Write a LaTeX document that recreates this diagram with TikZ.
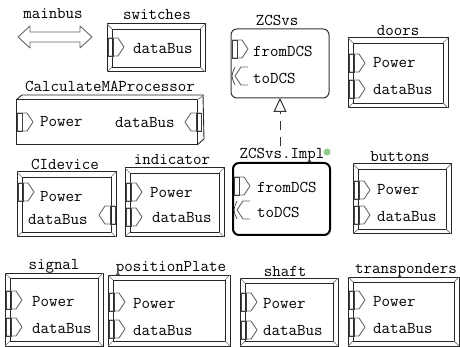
\documentclass[tikz,border=0pt]{standalone}
\usetikzlibrary{fit,arrows.meta}
\tikzset{
  lbl/.style={font=\ttfamily\fontsize{16.5}{18}\selectfont, inner sep=0pt, text=black},
  txt/.style={lbl, anchor=west},
  bevouter/.style={draw=black!85, line width=1pt, inner sep=0pt, outer sep=0pt},
  bevinner/.style={draw=black!85, line width=0.9pt},
  bevdiag/.style={draw=black!55, line width=0.7pt},
  portline/.style={draw=black!60, line width=0.9pt, line join=round},
  portbar/.style={draw=black!75, line width=0.7pt},
  roundbox/.style={draw=black!80, line width=1pt, rounded corners=6pt, inner sep=0pt, outer sep=0pt},
}
% beveled box: name, x1, y1, x2, y2, label, label x, label y
\newcommand\mkbev[8]{%
  \coordinate (#1-a) at (#2,#3); \coordinate (#1-b) at (#4,#5);
  \node[bevouter, fit=(#1-a)(#1-b)] (#1) {};
  \draw[bevinner] ([shift={(5,5)}]#1.north west) rectangle ([shift={(-5,-5)}]#1.south east);
  \draw[bevdiag] (#1.north west) -- ([shift={(5,5)}]#1.north west)
    (#1.north east) -- ([shift={(-5,5)}]#1.north east)
    (#1.south west) -- ([shift={(5,-5)}]#1.south west)
    (#1.south east) -- ([shift={(-5,-5)}]#1.south east);
  \node[lbl] (#1-lbl) at (#7,#8) {#6};}
% in-port at left edge x, centre y
\newcommand\inport[2]{%
  \draw[portline] (#1,#2-9) -- (#1+10,#2-9) -- (#1+16,#2) -- (#1+10,#2+9) -- (#1,#2+9);
  \draw[portbar] (#1,#2-9) rectangle (#1+5,#2+9);}
% out-port at right edge x, pointing left
\newcommand\outport[2]{%
  \draw[portline] (#1,#2-9) -- (#1-10,#2-9) -- (#1-16,#2) -- (#1-10,#2+9) -- (#1,#2+9);
  \draw[portbar] (#1-5,#2-9) rectangle (#1,#2+9);}
% out-port at left edge x, pointing left
\newcommand\leftout[2]{%
  \draw[portline] (#1+16,#2-9) -- (#1+9,#2-9) -- (#1+3,#2) -- (#1+9,#2+9) -- (#1+16,#2+9);
  \draw[portbar] (#1+3,#2-9) .. controls (#1-1,#2) .. (#1+3,#2+9);}
\begin{document}
\begin{tikzpicture}[x=1pt,y=-1pt]
\useasboundingbox[fill=white] (0,0) rectangle (460,347);

% mainbus
\node[lbl] (mainbus-lbl) at (53,14) {mainbus};
\draw[draw=black!60, line width=0.9pt, line join=round] (18,37) -- (30,26) -- (30,32) -- (80,32) -- (80,26) -- (92,37) -- (80,48) -- (80,42) -- (30,42) -- (30,48) -- cycle;

% switches
\mkbev{switches}{107}{24}{205}{72}{switches}{157}{15}
\inport{108}{47}
\node[txt] (switches-d) at (133,49) {dataBus};

% CalculateMAProcessor (cuboid)
\coordinate (calc-a) at (16,100); \coordinate (calc-b) at (197,145);
\node[bevouter, fit=(calc-a)(calc-b)] (calc) {};
\draw[bevinner] (calc.north west) -- ++(6,-5) -- ++(181,0) -- ([shift={(7,-6)}]calc.south east) -- (calc.south east);
\draw[bevdiag] (calc.north east) -- ++(7,-5);
\node[lbl] (calc-lbl) at (110,86) {CalculateMAProcessor};
\inport{17}{122}
\outport{201}{122}
\node[txt] (calc-p) at (40,122) {Power};
\node[txt] (calc-d) at (115,123) {dataBus};

% ZCSvs
\coordinate (zcs-a) at (231,29); \coordinate (zcs-b) at (329,98);
\node[roundbox, fit=(zcs-a)(zcs-b)] (zcsvs) {};
\node[lbl] (zcsvs-lbl) at (277,20) {ZCSvs};
\inport{232}{49}
\leftout{232}{76}
\node[txt] (zcsvs-f) at (253,51) {fromDCS};
\node[txt] (zcsvs-t) at (253,78) {toDCS};

% doors
\mkbev{doors}{348}{38}{448}{108}{doors}{398}{31}
\inport{349}{63}
\inport{349}{89}
\node[txt] (doors-p) at (373,63) {Power};
\node[txt] (doors-d) at (373,90) {dataBus};

% ZCSvs.Impl
\coordinate (impl-a) at (233,163); \coordinate (impl-b) at (330,235);
\node[roundbox, draw=black, line width=2pt, fit=(impl-a)(impl-b)] (impl) {};
\node[lbl] (impl-lbl) at (282,155) {ZCSvs.Impl};
\fill[green!55!black!45] (327,152) circle (3.5);
\inport{234}{186}
\leftout{234}{210}
\node[txt] (impl-f) at (257,187) {fromDCS};
\node[txt] (impl-t) at (257,212) {toDCS};
\coordinate (gen-start) at (280,146);
\draw[black!80, line width=1pt, dash pattern=on 9pt off 7pt, -{Triangle[open, width=13pt, length=14pt]}] (gen-start) -- (zcsvs.south);

% buttons
\mkbev{buttons}{353}{164}{451}{234}{buttons}{400}{157}
\inport{354}{190}
\inport{354}{215}
\node[txt] (buttons-p) at (377,190) {Power};
\node[txt] (buttons-d) at (377,217) {dataBus};

% CIdevice
\mkbev{cidev}{17}{172}{116}{237}{CIdevice}{65}{164}
\inport{18}{192}
\outport{115}{215}
\node[txt] (cidev-p) at (40,197) {Power};
\node[txt] (cidev-d) at (28,220) {dataBus};

% indicator
\mkbev{indic}{125}{168}{224}{237}{indicator}{172}{160}
\inport{126}{192}
\inport{126}{217}
\node[txt] (indic-p) at (150,193) {Power};
\node[txt] (indic-d) at (152,218) {dataBus};

% signal
\mkbev{signal}{5}{273}{103}{346}{signal}{54}{266}
\inport{6}{300}
\inport{6}{327}
\node[txt] (signal-p) at (32,302) {Power};
\node[txt] (signal-d) at (32,329) {dataBus};

% positionPlate
\mkbev{pplate}{108}{275}{230}{346}{positionPlate}{171}{268}
\inport{109}{302}
\inport{109}{329}
\node[txt] (pplate-p) at (133,304) {Power};
\node[txt] (pplate-d) at (133,331) {dataBus};

% shaft
\mkbev{shaft}{240}{278}{338}{346}{shaft}{285}{271}
\inport{241}{302}
\inport{241}{330}
\node[txt] (shaft-p) at (263,304) {Power};
\node[txt] (shaft-d) at (263,331) {dataBus};

% transponders
\mkbev{trans}{348}{277}{459}{346}{transponders}{406}{270}
\inport{349}{300}
\inport{349}{327}
\node[txt] (trans-p) at (373,302) {Power};
\node[txt] (trans-d) at (373,329) {dataBus};
\end{tikzpicture}
\end{document}
